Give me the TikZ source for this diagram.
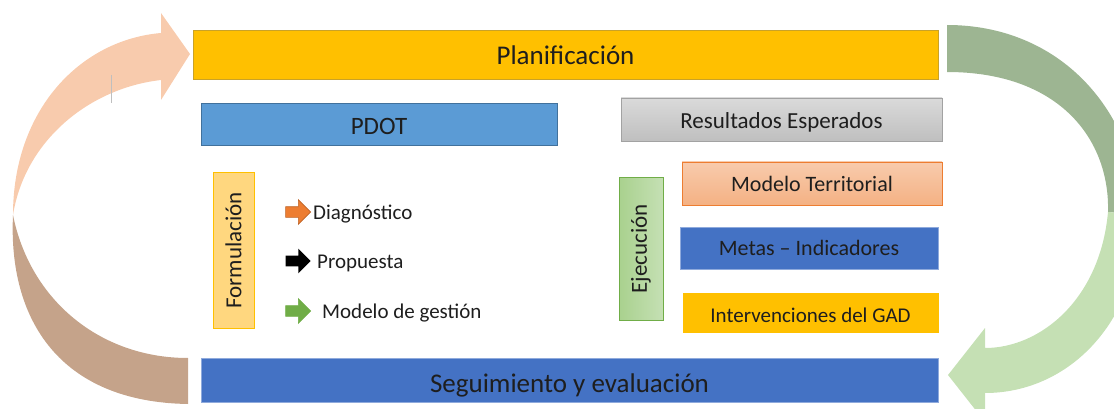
\documentclass[tikz,border=0pt]{standalone}
\usepackage{fontspec}
\setmainfont{Carlito}
\usetikzlibrary{shapes.arrows,positioning}

\definecolor{gold}{HTML}{FFC000}
\definecolor{golddk}{HTML}{C9A227}
\definecolor{skyblue}{HTML}{5B9BD5}
\definecolor{skybluedk}{HTML}{41719C}
\definecolor{royal}{HTML}{4472C4}
\definecolor{royallt}{HTML}{8FAADC}
\definecolor{greylt}{HTML}{DADADA}
\definecolor{greydk}{HTML}{BFBFBF}
\definecolor{salmonlt}{HTML}{F8CBAD}
\definecolor{salmondk}{HTML}{F4B183}
\definecolor{orangeln}{HTML}{ED7D31}
\definecolor{butter}{HTML}{FFD77F}
\definecolor{leaf}{HTML}{70AD47}
\definecolor{leaflt}{HTML}{C5E0B4}
\definecolor{leafmd}{HTML}{A9D18E}
\definecolor{peach}{HTML}{F8CBAD}
\definecolor{tanback}{HTML}{C5A38A}
\definecolor{sage}{HTML}{9DB592}
\definecolor{mint}{HTML}{C5E0B4}
\definecolor{txt}{HTML}{1E1E1E}

\newcommand\txtsize[1]{\fontsize{#1}{#1}\selectfont}

\begin{document}
\begin{tikzpicture}[x=1pt,y=-1pt,
    bar/.style={draw, line width=0.8pt, inner sep=0pt, text=txt,
      text depth=0pt, text height=19pt},
    side/.style={draw, line width=1pt, inner sep=0pt, text=txt, rotate=90},
    pointer/.style={single arrow, minimum height=25pt, minimum width=24pt,
      single arrow head extend=7pt, inner sep=5pt, line width=0.6pt},
    item/.style={anchor=west, inner sep=0pt, text=txt}
]
\useasboundingbox (0,0) rectangle (1114,409);
\clip (0,0) rectangle (1114,409);

% left cycle arrow
\fill[tanback] (13,215) .. controls (8,320) and (60,402) .. (188,404)
  -- (188,358) .. controls (100,358) and (30,300) .. (13,215) -- cycle;
\fill[peach] (13,215) .. controls (13,110) and (80,40) .. (161,33)
  -- (161,13) -- (190,54) -- (161,100) -- (161,80)
  .. controls (90,88) and (25,140) .. (13,215) -- cycle;
\draw[greydk, line width=0.8pt] (111,75) -- (111,103);

% right cycle arrow
\fill[sage] (947,25) .. controls (1060,25) and (1135,110) .. (1140,215)
  -- (1108,212) .. controls (1110,140) and (1060,72) .. (947,72) -- cycle;
\fill[mint] (1140,215) .. controls (1140,320) and (1070,393) .. (985,393)
  -- (985,422) -- (948,375) -- (985,328) -- (985,348)
  .. controls (1040,348) and (1100,300) .. (1108,212) -- cycle;

% main bars
\node[bar, fill=gold, draw=golddk, minimum width=745pt, minimum height=49pt,
  text height=21pt] (plan) at (565.5,54.5) {\txtsize{27}Planificación};
\node[bar, fill=royal, draw=royallt, minimum width=737pt, minimum height=44pt,
  text height=24pt] (seg) at (569.5,380) {\txtsize{27}Seguimiento y evaluación};

% planning column
\node[bar, fill=skyblue, draw=skybluedk, minimum width=356pt, minimum height=42pt,
  text height=22pt] (pdot) at (379,124) {\txtsize{25}PDOT};
\node[side, fill=butter, draw=gold, minimum width=155pt, minimum height=41pt]
  (formul) at (233.5,250.5) {\txtsize{23}Formulación};

\node[pointer, fill=orangeln, draw=orangeln!80!black] (diag) at (295.5,212) {};
\node[pointer, fill=black] (prop) at (295.5,261) {};
\node[pointer, fill=leaf, draw=leaf] (gest) at (295.5,311) {};
\node[item] at (313,214) {\txtsize{21}Diagnóstico};
\node[item] at (317,263) {\txtsize{21}Propuesta};
\node[item] at (322,313) {\txtsize{21}Modelo de gestión};

% results column
\node[bar, top color=greylt, bottom color=greydk, draw=greydk!85!black,
  minimum width=321pt, minimum height=43pt]
  (result) at (781.5,119.5) {\txtsize{23}Resultados Esperados};
\node[side, left color=leafmd, right color=leaflt, draw=leaf,
  minimum width=142pt, minimum height=44pt]
  (ejec) at (641,249) {\txtsize{23}Ejecución};

\node[bar, top color=salmonlt, bottom color=salmondk, draw=orangeln,
  minimum width=260pt, minimum height=43pt, text height=17pt]
  (modter) at (812,183.5) {\txtsize{22}Modelo Territorial};
\node[bar, fill=royal, draw=royallt, minimum width=258pt, minimum height=42pt,
  text height=14pt] (metas) at (809,248) {\txtsize{22}Metas -- Indicadores};
\node[bar, fill=gold, draw=gold, minimum width=255pt, minimum height=39pt]
  (interv) at (810.5,312.5) {\txtsize{21}Intervenciones del GAD};
\end{tikzpicture}
\end{document}
